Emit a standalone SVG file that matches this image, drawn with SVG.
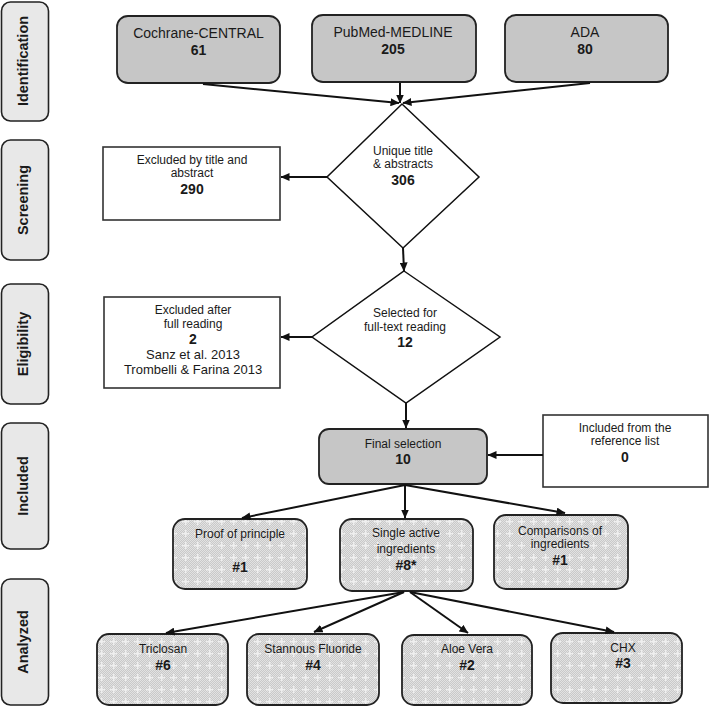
<svg xmlns="http://www.w3.org/2000/svg" width="709" height="707" viewBox="0 0 709 707">
<defs>
<style>
text{font-family:"Liberation Sans",Arial,sans-serif;fill:#1a1a1a;text-anchor:middle}
.side rect{fill:#e8e8e8;stroke:#222;stroke-width:1.6}
.side text{font-weight:bold;font-size:14.5px}
.src rect{fill:#c6c6c6;stroke:#222;stroke-width:1.8}
.t14{font-size:14px}
.t12{font-size:12px}
.t13{font-size:13px}
.b{font-weight:bold;font-size:14px}
.box{fill:#fff;stroke:#333;stroke-width:1.6}
.dia{fill:#fff;stroke:#111;stroke-width:1.5}
.pat{fill:url(#chk);stroke:none}
.plus{fill:url(#pl);stroke:none}
.edge{fill:none;stroke:#222;stroke-width:1.8}
.conn line{stroke:#111;stroke-width:2;marker-end:url(#ah)}
</style>
<pattern id="chk" width="2" height="2" patternUnits="userSpaceOnUse">
<rect width="2" height="2" fill="#c9c9c9"/>
<rect width="1" height="1" fill="#e2e2e2"/>
<rect x="1" y="1" width="1" height="1" fill="#e2e2e2"/>
</pattern>
<pattern id="pl" width="12" height="12" patternUnits="userSpaceOnUse">
<rect x="5" y="2" width="1.4" height="7" fill="#efefef"/>
<rect x="2" y="5" width="7" height="1.4" fill="#efefef"/>
</pattern>
<marker id="ah" markerWidth="9" markerHeight="8" refX="8.5" refY="4" orient="auto" markerUnits="userSpaceOnUse">
<path d="M0,0 L9,4 L0,8 z" fill="#111"/>
</marker>
</defs>

<g id="side-identification" class="side"><rect x="1.5" y="2" width="47" height="119" rx="9"/><text transform="translate(27.5,61) rotate(-90)">Identification</text></g>
<g id="side-screening" class="side"><rect x="1.5" y="140" width="47" height="120" rx="9"/><text transform="translate(27.5,200) rotate(-90)">Screening</text></g>
<g id="side-eligibility" class="side"><rect x="1.5" y="284" width="47" height="120" rx="9"/><text transform="translate(27.5,344) rotate(-90)">Eligibility</text></g>
<g id="side-included" class="side"><rect x="1.5" y="423" width="47" height="126" rx="9"/><text transform="translate(27.5,486) rotate(-90)">Included</text></g>
<g id="side-analyzed" class="side"><rect x="1.5" y="579" width="47" height="126" rx="9"/><text transform="translate(27.5,642) rotate(-90)">Analyzed</text></g>

<g id="cochrane" class="src"><rect x="117" y="16" width="163" height="67" rx="11"/><text x="198.5" y="38" class="t14">Cochrane-CENTRAL</text><text x="198.5" y="55" class="b">61</text></g>
<g id="pubmed" class="src"><rect x="312" y="15" width="164" height="67" rx="11"/><text x="393" y="37" class="t14">PubMed-MEDLINE</text><text x="393" y="54" class="b">205</text></g>
<g id="ada" class="src"><rect x="505" y="15" width="163" height="67" rx="11"/><text x="585" y="37" class="t14">ADA</text><text x="585" y="54" class="b">80</text></g>

<g id="unique"><path class="dia" d="M402,104 L479,177 L403,248 L327,177 Z"/><text x="403" y="155" class="t12">Unique title</text><text x="403" y="168" class="t12">&amp; abstracts</text><text x="403" y="185" class="b">306</text></g>
<g id="excl-title"><rect class="box" x="103" y="147" width="177" height="73"/><text x="192" y="164" class="t12">Excluded by title and</text><text x="192" y="177" class="t12">abstract</text><text x="192" y="194" class="b">290</text></g>

<g id="selected"><path class="dia" d="M404,271 L500,337 L406,403 L312,337 Z"/><text x="405" y="317" class="t12">Selected for</text><text x="405" y="331" class="t12">full-text reading</text><text x="405" y="347" class="b">12</text></g>
<g id="excl-full"><rect class="box" x="104" y="297" width="176" height="91"/><text x="193" y="314" class="t12">Excluded after</text><text x="193" y="328" class="t12">full reading</text><text x="193" y="344" class="b">2</text><text x="193" y="359" class="t13">Sanz et al. 2013</text><text x="193" y="374" class="t13">Trombelli &amp; Farina 2013</text></g>

<g id="final" class="src"><rect x="319" y="429" width="168" height="55" rx="10"/><text x="403" y="448" class="t12">Final selection</text><text x="403" y="464" class="b">10</text></g>
<g id="reflist"><rect class="box" x="543" y="415" width="165" height="72"/><text x="625" y="432" class="t12">Included from the</text><text x="625" y="445" class="t12">reference list</text><text x="625" y="462" class="b">0</text></g>

<g id="proof"><rect class="pat" x="173" y="519" width="134" height="70" rx="12"/><rect class="plus" x="173" y="519" width="134" height="70" rx="12"/><rect class="edge" x="173" y="519" width="134" height="70" rx="12"/><text x="240" y="538" class="t12">Proof of principle</text><text x="240" y="572" class="b">#1</text></g>
<g id="single"><rect class="pat" x="340" y="519" width="133" height="72" rx="12"/><rect class="plus" x="340" y="519" width="133" height="72" rx="12"/><rect class="edge" x="340" y="519" width="133" height="72" rx="12"/><text x="406" y="537" class="t12">Single active</text><text x="406" y="553" class="t12">ingredients</text><text x="406" y="570" class="b">#8*</text></g>
<g id="comparisons"><rect class="pat" x="494" y="515" width="134" height="74" rx="12"/><rect class="plus" x="494" y="515" width="134" height="74" rx="12"/><rect class="edge" x="494" y="515" width="134" height="74" rx="12"/><text x="560" y="535" class="t12">Comparisons of</text><text x="560" y="548" class="t12">ingredients</text><text x="560" y="565" class="b">#1</text></g>

<g id="triclosan"><rect class="pat" x="97" y="634" width="131" height="71" rx="12"/><rect class="plus" x="97" y="634" width="131" height="71" rx="12"/><rect class="edge" x="97" y="634" width="131" height="71" rx="12"/><text x="163" y="653" class="t12">Triclosan</text><text x="163" y="670" class="b">#6</text></g>
<g id="stannous"><rect class="pat" x="247" y="634" width="132" height="71" rx="12"/><rect class="plus" x="247" y="634" width="132" height="71" rx="12"/><rect class="edge" x="247" y="634" width="132" height="71" rx="12"/><text x="313" y="653" class="t12">Stannous Fluoride</text><text x="313" y="670" class="b">#4</text></g>
<g id="aloe"><rect class="pat" x="402" y="635" width="130" height="70" rx="12"/><rect class="plus" x="402" y="635" width="130" height="70" rx="12"/><rect class="edge" x="402" y="635" width="130" height="70" rx="12"/><text x="467" y="653" class="t12">Aloe Vera</text><text x="467" y="670" class="b">#2</text></g>
<g id="chx"><rect class="pat" x="551" y="633" width="131" height="70" rx="12"/><rect class="plus" x="551" y="633" width="131" height="70" rx="12"/><rect class="edge" x="551" y="633" width="131" height="70" rx="12"/><text x="623" y="652" class="t12">CHX</text><text x="623" y="668" class="b">#3</text></g>

<g id="connectors" class="conn">
<line x1="203" y1="84" x2="399" y2="103"/>
<line x1="400" y1="83" x2="400" y2="103"/>
<line x1="590" y1="83" x2="403" y2="103"/>
<line x1="327" y1="177" x2="281" y2="177"/>
<line x1="403" y1="248" x2="404" y2="271"/>
<line x1="312" y1="337" x2="281" y2="337"/>
<line x1="406" y1="403" x2="406" y2="428"/>
<line x1="543" y1="455" x2="488" y2="455"/>
<line x1="405" y1="485" x2="242" y2="518"/>
<line x1="405" y1="485" x2="405" y2="518"/>
<line x1="405" y1="485" x2="565" y2="513"/>
<line x1="404" y1="592" x2="166" y2="633"/>
<line x1="404" y1="592" x2="314" y2="632"/>
<line x1="410" y1="592" x2="468" y2="633"/>
<line x1="410" y1="592" x2="614" y2="632"/>
</g>
</svg>
